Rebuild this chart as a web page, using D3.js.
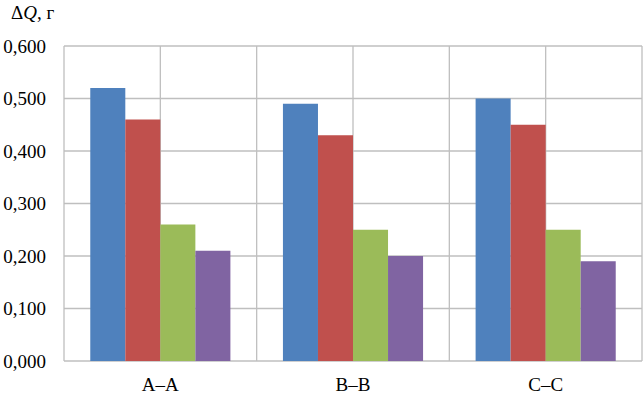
<!DOCTYPE html>
<html>
<head>
<meta charset="UTF-8">
<title>dQ</title>
<script src="https://d3js.org/d3.v7.min.js"></script>
<style>
  body { margin: 0; background: #fff; }
</style>
</head>
<body>
<script>
// data
const categories = ["A–A", "B–B", "C–C"];
const series1 = [0.52, 0.49, 0.50];
const series2 = [0.46, 0.43, 0.45];
const series3 = [0.26, 0.25, 0.25];
const series4 = [0.21, 0.20, 0.19];
const yTicks = [0, 0.1, 0.2, 0.3, 0.4, 0.5, 0.6];
const colors = ["#4f81bd", "#c0504d", "#9bbb59", "#8064a2"];

const allSeries = [series1, series2, series3, series4];
const serif = "'Liberation Serif'";

const W = 644, H = 398;
const margin = { top: 46, right: 2, bottom: 37, left: 64 };
const width = W - margin.left - margin.right;
const height = H - margin.top - margin.bottom;

const svg = d3.select("body").append("svg")
  .attr("width", W).attr("height", H);
const g = svg.append("g")
  .attr("transform", "translate(" + margin.left + "," + margin.top + ")");

const x = d3.scaleBand().domain(categories).range([0, width]);
const inner = d3.scaleBand().domain(d3.range(allSeries.length))
  .range([0, x.bandwidth()]).paddingOuter(0.75).paddingInner(0);
const y = d3.scaleLinear().domain([0, 0.6]).range([height, 0]);

const gridColor = "#bfbfbf";

// horizontal grid
g.selectAll(".hgrid").data(yTicks).enter().append("line")
  .attr("x1", 0).attr("x2", width)
  .attr("y1", d => y(d)).attr("y2", d => y(d))
  .attr("stroke", gridColor).attr("stroke-width", 1.3);

// vertical grid at category edges and centers
const vLines = [];
categories.forEach(c => {
  vLines.push(x(c));
  vLines.push(x(c) + x.bandwidth() / 2);
});
vLines.push(width);
g.selectAll(".vgrid").data(vLines).enter().append("line")
  .attr("x1", d => d).attr("x2", d => d)
  .attr("y1", 0).attr("y2", height)
  .attr("stroke", gridColor).attr("stroke-width", 1.3);

// bars
const groups = g.selectAll(".cat").data(categories).enter().append("g")
  .attr("transform", d => "translate(" + x(d) + ",0)");
groups.selectAll("rect")
  .data((c, ci) => allSeries.map((s, si) => ({ si: si, v: s[ci] })))
  .enter().append("rect")
  .attr("x", d => inner(d.si))
  .attr("width", inner.bandwidth())
  .attr("y", d => y(d.v))
  .attr("height", d => height - y(d.v))
  .attr("fill", d => colors[d.si]);

// y axis labels
const fmt = v => d3.format(".3f")(v).replace(".", ",");
g.selectAll(".ylab").data(yTicks).enter().append("text")
  .attr("x", -18).attr("y", d => y(d))
  .attr("dy", "0.35em")
  .attr("text-anchor", "end")
  .style("font-family", serif)
  .style("font-size", "19px")
  .text(fmt);

// x axis labels
g.selectAll(".xlab").data(categories).enter().append("text")
  .attr("x", d => x(d) + x.bandwidth() / 2)
  .attr("y", height + 30)
  .attr("text-anchor", "middle")
  .style("font-family", serif)
  .style("font-size", "19px")
  .text(d => d);

// axis title
const title = svg.append("text").attr("x", 11).attr("y", 19)
  .style("font-family", serif)
  .style("font-size", "19px");
title.append("tspan").text("Δ");
title.append("tspan").style("font-style", "italic").text("Q");
title.append("tspan").text(", г");
</script>
</body>
</html>
